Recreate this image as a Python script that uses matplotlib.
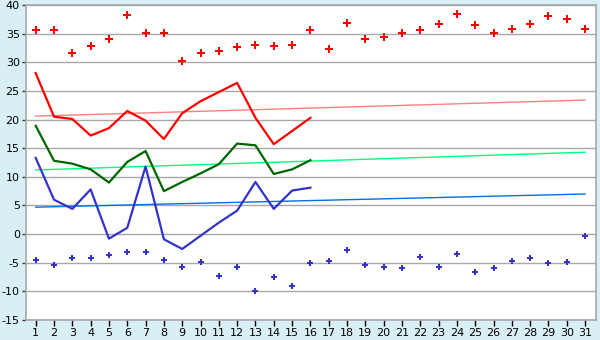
import matplotlib
matplotlib.use("Agg")
import matplotlib.pyplot as plt
import numpy as np

days = list(range(1, 32))
max_points = [35.6, 35.6, 31.6, 32.8, 34.0, 38.2, 35.1, 35.1, 30.2, 31.6,
              31.9, 32.6, 33.0, 32.8, 33.0, 35.6, 32.3, 36.8, 34.0, 34.4,
              35.1, 35.6, 36.6, 38.4, 36.5, 35.1, 35.8, 36.6, 38.0, 37.5, 35.8]
min_points = [-4.5, -5.4, -4.2, -4.2, -3.7, -3.1, -3.1, -4.5, -5.8, -4.9,
              -7.3, -5.8, -10.0, -7.5, -9.1, -5.1, -4.7, -2.8, -5.4, -5.8,
              -5.9, -4.0, -5.8, -3.5, -6.6, -5.9, -4.7, -4.2, -5.1, -4.9, -0.4]
line_days = list(range(1, 17))
red_line = [28.1, 20.5, 20.1, 17.2, 18.5, 21.5, 19.8, 16.6, 21.1, 23.2,
            24.8, 26.4, 20.3, 15.7, 18.0, 20.3]
green_line = [18.9, 12.8, 12.3, 11.3, 9.0, 12.6, 14.5, 7.5, 9.1, 10.6,
              12.2, 15.8, 15.5, 10.5, 11.3, 12.9]
blue_line = [13.3, 6.0, 4.4, 7.8, -0.8, 1.1, 11.8, -0.9, -2.6, -0.3,
             2.0, 4.1, 9.1, 4.4, 7.6, 8.1]
trend_red = [20.6, 23.4]
trend_green = [11.2, 14.3]
trend_blue = [4.7, 7.0]
trend_days = [1, 31]
y_ticks = list(range(-15, 45, 5))
y_labels = [str(v) for v in y_ticks]

fig = plt.figure(figsize=(6, 3.4), dpi=100, facecolor="#D9EFF6")
ax = fig.add_axes([26/600, 1-320/340, (595.7-26)/600, (320-5)/340])
ax.set_facecolor("white")

ax.set_xlim(0.47, 31.58)
ax.set_ylim(-15, 40)
ax.set_yticks(y_ticks)
ax.set_yticklabels(y_labels)
ax.set_xticks(days)
ax.set_xticklabels([str(d) for d in days])
ax.yaxis.grid(True, color="#A8A8A8", lw=1)
ax.set_axisbelow(True)
for s in ax.spines.values():
    s.set_color("#A8A8A8")
    s.set_linewidth(1.2)
ax.tick_params(axis="y", colors="#333333", labelcolor="black", labelsize=8, length=3, width=1, pad=1.5)
ax.tick_params(axis="x", colors="black", labelcolor="black", labelsize=8, length=4, width=1, pad=2)

ax.plot(trend_days, trend_red, color="#FF8080", lw=1)
ax.plot(trend_days, trend_green, color="#00FF80", lw=1)
ax.plot(trend_days, trend_blue, color="#0070E0", lw=1)

ax.plot(line_days, red_line, color="#FF0000", lw=1.6)
ax.plot(line_days, green_line, color="#006600", lw=1.6)
ax.plot(line_days, blue_line, color="#3333CC", lw=1.6)

ax.plot(days, max_points, ls="none", marker="P", ms=5.5, color="#FF0000", mew=0)
ax.plot(days, min_points, ls="none", marker="P", ms=5, color="#3333CC", mew=0)

fig.savefig("out.png", dpi=100, facecolor=fig.get_facecolor())
